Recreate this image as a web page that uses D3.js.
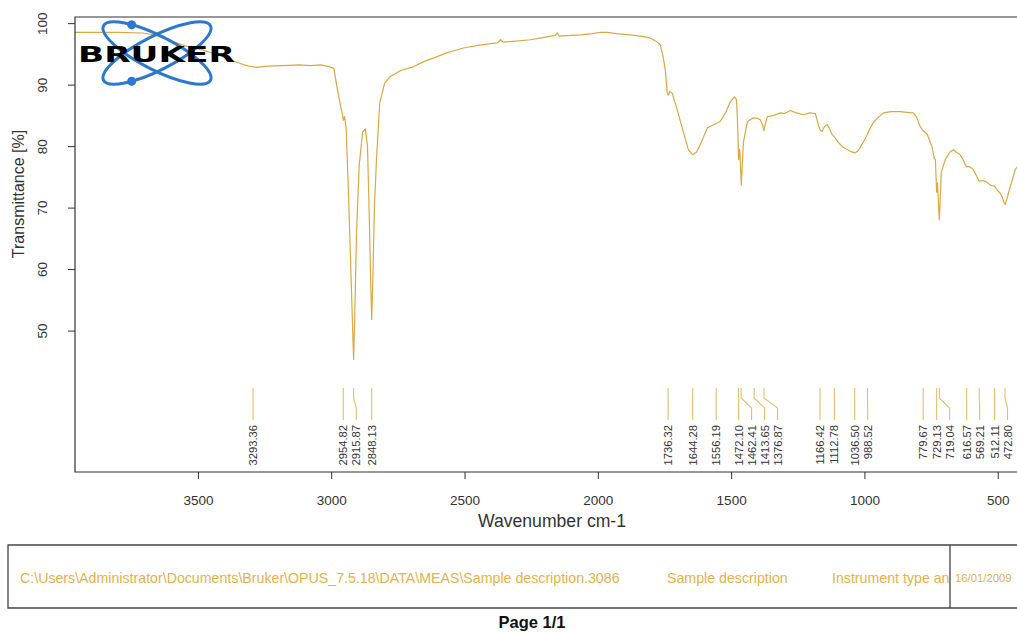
<!DOCTYPE html>
<html><head><meta charset="utf-8">
<script src="https://cdn.jsdelivr.net/npm/d3@7"></script>
<style>html,body{margin:0;padding:0;background:#fff;overflow:hidden}</style>
</head><body><svg id="c" width="1017" height="632"></svg>
<script>
// ---- data ----
const wavenumbers = [3961,3900,3800,3705,3660,3615,3540,3480,3428,3390,3353,3310,3278,3240,3180,3120,3079,3040,3004,
  2990,2978,2965,2957,2954.8,2950,2944,2935,2925,2918,2915.9,2912,2905,2895,2882,2872,2864,2858,2852,2848.1,2844,2838,2830,2818,2800,2779,2740,2693,2655,2600,2565,2500,2430,2377,2365,2355,2330,2253,2200,2160,2152,2145,2100,2066,2020,1990,1965,1930,1879,1840,1804,1780,1766,1755,1747,1740,1736,1730,1721,1702,1680,1660,1644,1630,1616,1589,1560,1541,1520,1503,1488,1480,1476,1472,1468,1465,1462,1458,1454,1439,1417,1400,1391,1382,1377,1372,1364,1340,1316,1300,1278,1255,1229,1205,1184,1173,1166,1158,1150,1139,1121,1113,1098,1080,1064,1050,1036,1025,1016,1000,989,980,967,950,929,900,865,840,817,805,791,780,764,752,746,738,734,729,726,723,719,715,712,697,680,667,655,641,630,622,617,611,600,592,580,573,569,555,540,525,512,503,490,484,476,472,465,453,434,420,400];
const transmittance = [98.5,98.5,98.5,98.4,98.0,97.3,96.2,95.6,94.9,94.3,93.6,93.0,92.8,93.0,93.1,93.2,93.1,93.2,92.9,
  92.6,89.5,86.5,85.0,84.2,84.8,83.0,72,58,48,45.3,52,66,77,82.3,82.8,80,70,58,51.8,58,70,78,87,90.2,91.3,92.3,92.9,93.7,94.6,95.2,96.0,96.5,96.8,97.3,96.9,97.0,97.3,97.7,98.0,98.4,97.9,98.0,98.1,98.3,98.5,98.5,98.3,98.1,97.9,97.6,97.0,96.5,94.5,92.4,88.7,88.3,88.9,88.6,85.9,82.4,79.4,78.6,79.0,80.2,83.0,83.6,84.0,85.5,87.2,88.0,87.6,84,77.8,79.5,77,73.7,77,80.6,84.0,84.6,84.5,84.3,83.5,82.5,83.6,84.8,85.0,85.4,85.3,85.8,85.4,85.1,85.4,85.3,83.5,82.6,82.4,83.2,83.5,81.9,81.5,80.6,79.8,79.4,79.1,78.9,79.2,79.8,81.0,81.9,82.8,83.8,84.6,85.4,85.6,85.6,85.5,85.4,84.8,83.2,82.5,81.9,80.5,79.8,78.0,77.8,72.5,74,71.3,68.0,72,75.7,77.8,79.0,79.4,79.0,78.6,77.8,77.0,76.6,76.7,76.5,76.2,75.2,74.6,74.3,74.4,74.1,73.6,73.5,72.9,72.3,71.8,70.8,70.5,71.5,73.4,76.2,77.0,77.5];
const peakPositions = [3293.36,2954.82,2915.87,2848.13,1736.32,1644.28,1556.19,1472.10,1462.41,1413.65,1376.87,1166.42,1112.78,1036.50,988.52,779.67,729.13,719.04,616.57,569.21,512.11,472.80];
const xTicks = [3500,3000,2500,2000,1500,1000,500];
const yTicks = [50,60,70,80,90,100];
const xTitle = "Wavenumber cm-1";
const yTitle = "Transmittance [%]";
const footerPath = "C:\\Users\\Administrator\\Documents\\Bruker\\OPUS_7.5.18\\DATA\\MEAS\\Sample description.3086";
const footerSample = "Sample description";
const footerInstrument = "Instrument type and";
const footerDate = "16/01/2009";
const pageLabel = "Page 1/1";

// ---- drawing ----
const svg = d3.select("#c");
const font = "'Liberation Sans', Arial, sans-serif";
const lineColor = "#DBA842";
const L = 75, T = 17, B = 472, R = 1024.4;
const x = d3.scaleLinear().domain([3961, 400]).range([L, R]);
const y = d3.scaleLinear().domain([27, 101]).range([B, T]);

const data = wavenumbers.map((w, i) => [w, transmittance[i]]);
svg.append("path").datum(data)
  .attr("d", d3.line().x(d => x(d[0])).y(d => y(d[1])))
  .attr("fill", "none").attr("stroke", lineColor).attr("stroke-width", 1.2)
  .attr("stroke-linejoin", "round");

// frame
svg.append("path").attr("d", `M${R},${T}H${L}V${B}H${R}`)
  .attr("fill", "none").attr("stroke", "#333").attr("stroke-width", 1.2);

// y axis
const ya = svg.append("g").attr("transform", `translate(${L},0)`)
  .call(d3.axisLeft(y).tickValues(yTicks).tickSize(7).tickFormat(d3.format("d")));
ya.select(".domain").remove();
ya.selectAll(".tick line").attr("stroke", "#333");
ya.selectAll(".tick text")
  .attr("x", null).attr("dy", null)
  .attr("transform", "translate(-33,0) rotate(-90)")
  .attr("text-anchor", "middle").attr("dominant-baseline", "central")
  .attr("font-family", font).attr("font-size", 13.5).attr("fill", "#333");

// x axis
const xa = svg.append("g").attr("transform", `translate(0,${B})`)
  .call(d3.axisBottom(x).tickValues(xTicks).tickSize(7).tickFormat(d3.format("d")));
xa.select(".domain").remove();
xa.selectAll(".tick line").attr("stroke", "#333");
xa.selectAll(".tick text").attr("y", 28).attr("dy", null)
  .attr("dominant-baseline", "central")
  .attr("font-family", font).attr("font-size", 13.5).attr("fill", "#333");

svg.append("text").attr("x", 552).attr("y", 521).attr("text-anchor", "middle")
  .attr("dominant-baseline", "central").attr("font-family", font).attr("font-size", 17.6)
  .attr("fill", "#333").text(xTitle);
svg.append("text").attr("transform", "translate(18,194) rotate(-90)").attr("text-anchor", "middle")
  .attr("dominant-baseline", "central").attr("font-family", font).attr("font-size", 16)
  .attr("fill", "#333").text(yTitle);

// peak markers with label spreading
const minGap = 13;
const peaks = peakPositions.map(p => ({p, px: x(p)})).sort((a, b) => a.px - b.px);
let prev = -Infinity;
peaks.forEach(d => { d.lx = Math.max(d.px, prev + minGap); prev = d.lx; });
const pg = svg.append("g");
pg.selectAll("path").data(peaks).join("path")
  .attr("d", d => `M${d.px},388V398L${d.lx},408V420`)
  .attr("fill", "none").attr("stroke", "#E3BE6E").attr("stroke-width", 1.1);
pg.selectAll("text").data(peaks).join("text")
  .attr("transform", d => `translate(${d.lx},425) rotate(-90)`)
  .attr("text-anchor", "end").attr("dominant-baseline", "central")
  .attr("font-family", font).attr("font-size", 11.2).attr("fill", "#333")
  .text(d => d.p.toFixed(2));

// Bruker logo
const logo = svg.append("g").attr("transform", "translate(157,53)");
[27, -27].forEach(a => {
  logo.append("ellipse").attr("rx", 60).attr("ry", 17).attr("transform", `rotate(${a})`)
    .attr("fill", "none").attr("stroke", "#2C78CF").attr("stroke-width", 3);
});
const ta = 233.8 * Math.PI / 180;
[[27, 1], [-27, -1]].forEach(([a, s]) => {
  logo.append("circle").attr("transform", `rotate(${a})`)
    .attr("cx", 60 * Math.cos(ta)).attr("cy", s * 17 * Math.sin(ta)).attr("r", 4.5)
    .attr("fill", "#2C78CF");
});
svg.append("text").attr("x", 78).attr("y", 62).attr("font-family", "'DejaVu Sans', sans-serif")
  .attr("font-weight", 900).attr("font-size", 21).attr("textLength", 157)
  .attr("lengthAdjust", "spacingAndGlyphs").attr("fill", "#000").text("BRUKER");

// footer box
svg.append("path").attr("d", "M1030,545H8V608H1030M950,545V608")
  .attr("fill", "none").attr("stroke", "#444").attr("stroke-width", 1.3);
const defs = svg.append("defs");
defs.append("clipPath").attr("id", "clipInst").append("rect")
  .attr("x", 800).attr("y", 545).attr("width", 149).attr("height", 63);
const ft = svg.append("g").attr("font-family", font).attr("font-size", 14.2)
  .attr("fill", "#E2B24C").attr("dominant-baseline", "central");
ft.append("text").attr("x", 20).attr("y", 578).text(footerPath);
ft.append("text").attr("x", 667).attr("y", 578).text(footerSample);
ft.append("text").attr("x", 832).attr("y", 578).attr("clip-path", "url(#clipInst)").text(footerInstrument);
ft.append("text").attr("x", 955).attr("y", 578).attr("font-size", 11.3).text(footerDate);

svg.append("text").attr("x", 532).attr("y", 622).attr("text-anchor", "middle")
  .attr("dominant-baseline", "central").attr("font-family", font).attr("font-weight", "bold")
  .attr("font-size", 16.5).attr("fill", "#111").text(pageLabel);
</script></body></html>
